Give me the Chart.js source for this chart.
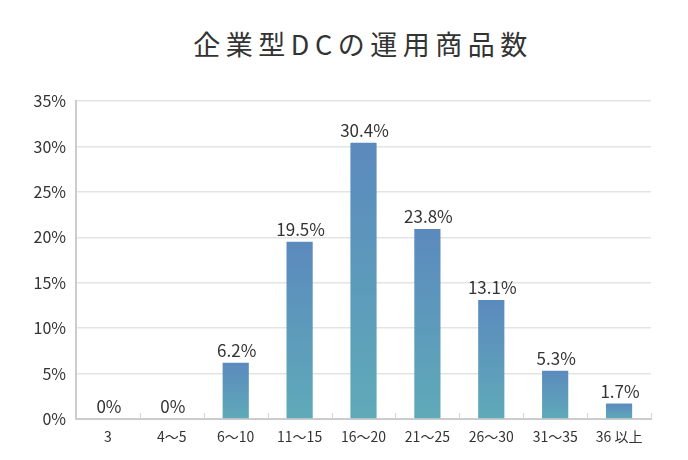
<!DOCTYPE html>
<html lang="ja">
<head>
<meta charset="utf-8">
<script src="https://cdn.jsdelivr.net/npm/chart.js@4/dist/chart.umd.min.js"></script>
<style>
  html, body { margin: 0; padding: 0; background: #ffffff; }
  #wrap { position: relative; width: 688px; height: 460px; }
  #title { position: absolute; left: 0; top: 26px; width: 726px; text-align: center;
           font-family: "Noto Sans CJK JP", sans-serif; font-size: 27px; font-weight: 400;
           color: #333333; letter-spacing: 5.5px; line-height: 36px; margin: 0; }
  canvas { position: absolute; left: 0; top: 0; }
</style>
</head>
<body>
<div id="wrap">
  <div id="title">企業型DCの運用商品数</div>
  <canvas id="c" width="688" height="460"></canvas>
</div>
<script>
// ---- data ----
const categories = ["3", "4～5", "6～10", "11～15", "16～20", "21～25", "26～30", "31～35", "36 以上"];
// bar heights as drawn in the picture (%)
const barValues = [0, 0, 6.2, 19.5, 30.4, 20.9, 13.1, 5.3, 1.7];
// value labels as printed above the bars
const valueLabels = ["0%", "0%", "6.2%", "19.5%", "30.4%", "23.8%", "13.1%", "5.3%", "1.7%"];
const yTicks = [0, 5, 10, 15, 20, 25, 30, 35];

const FONT = '"Noto Sans CJK JP", sans-serif';

function barGradient(context) {
  const chart = context.chart;
  const ys = chart.scales && chart.scales.y;
  if (!ys || context.dataIndex === undefined) return '#5e97bd';
  const v = context.dataset.data[context.dataIndex];
  const top = ys.getPixelForValue(v);
  const bottom = ys.getPixelForValue(0);
  if (!(bottom - top > 0)) return '#5e97bd';
  const g = chart.ctx.createLinearGradient(0, top, 0, bottom);
  g.addColorStop(0, '#5b8abd');
  g.addColorStop(1, '#5faab9');
  return g;
}

const valueLabelPlugin = {
  id: 'valueLabels',
  afterDatasetsDraw(chart) {
    const ctx = chart.ctx;
    const meta = chart.getDatasetMeta(0);
    ctx.save();
    ctx.font = '17px ' + FONT;
    ctx.fillStyle = '#333333';
    ctx.textAlign = 'center';
    ctx.textBaseline = 'bottom';
    meta.data.forEach((bar, i) => {
      ctx.fillText(valueLabels[i], bar.x + 1, bar.y - 4);
    });
    ctx.restore();
  }
};

const categoryTickPlugin = {
  id: 'categoryTicks',
  afterDatasetsDraw(chart) {
    const xs = chart.scales.x;
    const ctx = chart.ctx;
    const base = chart.chartArea.bottom;
    const step = xs.getPixelForValue(1) - xs.getPixelForValue(0);
    ctx.save();
    ctx.strokeStyle = '#d4d4d4';
    ctx.lineWidth = 1;
    for (let i = 0; i < categories.length; i++) {
      const x = Math.round(xs.getPixelForValue(i) + step / 2) + 0.5;
      ctx.beginPath();
      ctx.moveTo(x, base);
      ctx.lineTo(x, base - 6);
      ctx.stroke();
    }
    ctx.restore();
  }
};

new Chart(document.getElementById('c'), {
  type: 'bar',
  data: {
    labels: categories,
    datasets: [{
      data: barValues,
      backgroundColor: barGradient,
      borderWidth: 0,
      barPercentage: 0.41,
      categoryPercentage: 1.0
    }]
  },
  options: {
    responsive: false,
    animation: false,
    events: [],
    layout: { padding: { top: 101, right: 37, bottom: 0, left: 0 } },
    plugins: {
      legend: { display: false },
      title: { display: false },
      tooltip: { enabled: false }
    },
    scales: {
      x: {
        offset: true,
        grid: { display: false, drawTicks: false },
        border: { display: true, color: '#cccccc', width: 2 },
        ticks: {
          padding: 9,
          color: '#333333',
          font: { family: FONT, size: 14 },
          maxRotation: 0,
          autoSkip: false
        },
        afterFit(scale) { scale.height = 41; }
      },
      y: {
        min: 0,
        max: 35,
        afterBuildTicks(scale) { scale.ticks = yTicks.map(v => ({ value: v })); },
        grid: {
          color: (c) => (c.tick && c.tick.value === 0 ? 'rgba(0,0,0,0)' : '#e4e4e4'),
          lineWidth: 1.5,
          drawTicks: false
        },
        border: { display: true, color: '#cccccc', width: 2 },
        ticks: {
          padding: 10,
          color: '#333333',
          font: { family: FONT, size: 16 },
          callback: (v) => v + '%'
        },
        afterFit(scale) { scale.width = 76; }
      }
    }
  },
  plugins: [valueLabelPlugin, categoryTickPlugin]
});
</script>
</body>
</html>
